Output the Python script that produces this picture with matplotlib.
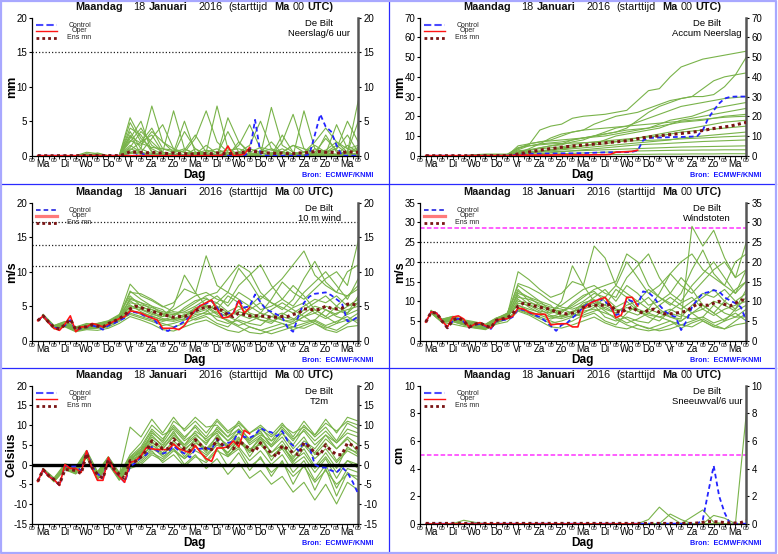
import numpy as np
import matplotlib
matplotlib.use("Agg")
import matplotlib.pyplot as plt
from matplotlib.ticker import FixedLocator, FuncFormatter
from matplotlib.lines import Line2D

plt.rcParams['font.family'] = ['Liberation Sans', 'DejaVu Sans']
plt.rcParams['axes.unicode_minus'] = False

# ---------------------------------------------------------------- data
DAYS = ['Ma', 'Di', 'Wo', 'Do', 'Vr', 'Za', 'Zo', 'Ma', 'Di', 'Wo', 'Do', 'Vr', 'Za', 'Zo', 'Ma']
TITLE_PIECES = [("Maandag", "bold"), ("18", "normal"), ("Januari", "bold"), ("2016", "normal"),
                ("(starttijd", "normal"), ("Ma", "bold"), ("00", "normal"), ("UTC)", "bold")]
LEGEND_LABELS = ["Control", "Oper", "Ens mn"]
STATION = "De Bilt"
SOURCE = "Bron:  ECMWF/KNMI"

# control / mean: 6-hourly from +6h to +360h ; oper: 6-hourly to +240h ; members: 12-hourly
PRECIP_CTRL = [0.0] * 19 + [0.4] + [0.0] * 19 + [0.5, 5.2, 0.3] + [0.0] * 8 + [0.2, 3.0, 6.0, 4.2, 3.5, 1.5, 0.0, 0.0, 0.0, 0.0]
PRECIP_OPER = [0.0] * 34 + [0.1, 1.4, 0.0, 0.1, 0.2, 1.2]
PRECIP_MEAN = [0.0] * 8 + [0.02] * 8 + [0.2, 0.6, 0.5, 0.5, 0.4, 0.5, 0.4, 0.4, 0.3, 0.4, 0.3, 0.3, 0.2, 0.3, 0.3, 0.3,
                                         0.3, 0.4, 0.3, 0.3, 0.3, 0.4, 0.5, 0.8, 0.6, 0.5, 0.4, 0.4, 0.3, 0.4, 0.3, 0.3,
                                         0.4, 0.4, 0.5, 0.6, 0.6, 0.5, 0.5, 0.4, 0.4, 0.6, 0.5, 0.5]
PRECIP_MEMBERS = [
    [0, 0, 0, 0, 0, 0, 0, 0, 3.5, 1.0, 7.2, 2.0, 0.5, 0, 0.2, 1.5, 0.3, 0, 2.0, 0.5, 0, 0.3, 1.0, 0.2, 0, 0.5, 2.5, 0.8, 0.2, 1.0],
    [0, 0, 0, 0, 0.5, 0.3, 0, 0, 5.5, 2.5, 1.0, 0.2, 0, 0.8, 3.0, 0.5, 0, 0, 0.2, 1.0, 0.5, 0, 0, 0.3, 0.5, 1.5, 0.5, 0, 0, 0.3],
    [0, 0, 0, 0, 0, 0, 0, 0, 2.0, 4.0, 1.5, 0.5, 6.5, 1.0, 0.2, 0, 0.5, 0.2, 0, 0, 0.5, 2.0, 0.3, 0, 0, 0, 0.5, 1.0, 3.0, 0.5],
    [0, 0, 0, 0, 0, 0.4, 0, 0, 1.0, 0.5, 2.5, 4.5, 1.0, 0, 0, 0.5, 7.2, 1.0, 0.2, 0, 0, 0, 0.5, 1.5, 0.5, 0, 0, 0.2, 0.5, 0],
    [0, 0, 0, 0, 0, 0, 0, 0, 4.0, 3.0, 0.5, 0.2, 0, 0, 0.5, 0.3, 0, 0.2, 1.5, 4.5, 1.0, 0.2, 0, 0, 6.5, 1.0, 0.3, 0, 0.5, 1.2],
    [0, 0, 0, 0, 0, 0, 0, 0, 0.5, 1.0, 0.3, 0, 0, 0.2, 0.5, 0.2, 0, 0, 0, 0.3, 0.2, 7.0, 1.5, 0.5, 0.2, 0, 0.3, 4.5, 1.0, 0.5],
    [0, 0, 0, 0, 0.3, 0, 0, 0, 2.5, 5.0, 0.5, 0, 0.2, 3.5, 1.0, 0, 0, 0.5, 0.3, 0, 0, 0, 2.0, 6.0, 1.0, 0.2, 0, 0, 0.5, 5.0],
    [0, 0, 0, 0, 0, 0, 0, 0, 1.5, 0.5, 0, 0.3, 0, 0, 0, 0, 0, 0, 0.5, 0.2, 0, 0, 0, 0, 0, 0.3, 0.5, 1.5, 0.3, 0],
    [0, 0, 0, 0, 0, 0, 0, 0, 0.8, 2.0, 4.0, 1.0, 0.5, 5.0, 0.5, 0, 0.2, 3.5, 0.5, 0, 0.3, 0.5, 0, 0, 0.5, 2.0, 4.0, 2.0, 0.5, 8.0],
    [0, 0, 0, 0, 0, 0, 0, 0, 3.0, 0.2, 0, 0, 0, 0, 0, 0.5, 1.0, 0.2, 0, 0, 0, 0, 0, 0.2, 0, 0, 0.2, 0, 0, 0.5],
    [0, 0, 0, 0, 0, 0, 0, 0, 4.8, 2.0, 3.0, 0.5, 0.2, 0, 0, 0, 0, 5.5, 2.0, 0.3, 0, 0, 3.0, 0.5, 0, 0.2, 0.5, 1.0, 5.0, 2.0],
    [0, 0, 0, 0, 0, 0, 0, 0, 0.3, 0.5, 0.2, 0, 0, 0, 0.2, 0, 0, 0, 0, 0, 0, 0, 0, 0.3, 0.5, 0, 0, 0.2, 0, 0],
    [0, 0, 0, 0, 0, 0, 0, 0, 2.2, 1.5, 3.5, 2.0, 1.0, 0.5, 2.5, 6.5, 2.0, 0.5, 0.2, 0, 0.5, 1.0, 0.5, 0.2, 0, 1.0, 0.5, 0.2, 1.5, 0.5],
    [0, 0, 0, 0, 0, 0, 0, 0, 1.2, 3.5, 2.0, 0.5, 0, 0, 1.0, 0.2, 0, 0, 0.5, 1.5, 5.0, 1.0, 0, 0, 0, 0, 3.0, 0.5, 0, 0.2],
    [0, 0, 0, 0, 0, 0, 0, 0, 0.5, 0.2, 0, 0, 0.5, 1.0, 0.3, 0, 0, 0, 0, 0, 0, 0.2, 0.5, 0, 0, 0, 0, 0, 0.3, 0],
    [0, 0, 0, 0, 0.2, 0.2, 0, 0, 2.8, 1.8, 1.2, 1.0, 0.8, 0.5, 0.3, 0.8, 0.5, 0.8, 1.0, 0.5, 1.2, 0.8, 0.5, 1.5, 1.0, 0.5, 0.8, 2.0, 1.0, 1.5],
]

ACCUM_CTRL = [0.0] * 16 + [0.3, 0.6, 0.7, 1.0, 1.0, 1.0, 1.1, 1.1, 1.1, 1.2, 1.2, 1.2, 1.3, 1.3, 1.4, 1.5,
                           1.6, 1.7, 1.7, 1.8, 1.8, 1.8, 2.0, 2.6, 7.8, 9.0, 9.1, 9.2, 9.3, 9.4, 9.5, 9.5,
                           9.6, 9.7, 10.0, 13.0, 19.0, 23.0, 26.5, 29.0, 29.8, 30.0, 30.0, 30.0]
ACCUM_OPER = [0.0] * 16 + [0.1, 0.2, 0.3, 0.3, 0.3, 0.3, 0.3, 0.3, 0.4, 0.4, 0.4, 0.4, 0.4, 0.4, 0.4, 0.5, 0.5, 0.5,
                           0.7, 1.8, 1.9, 2.0, 2.2, 2.8]
ACCUM_MEAN = [0.0] * 8 + [0.05] * 8 + [0.3, 0.9, 1.4, 1.9, 2.3, 2.8, 3.2, 3.6, 3.9, 4.3, 4.6, 4.9, 5.1, 5.4, 5.6, 5.9,
                                         6.2, 6.5, 6.8, 7.0, 7.3, 7.6, 8.0, 8.6, 9.1, 9.5, 9.8, 10.1, 10.4, 10.7, 11.0,
                                         11.3, 11.6, 11.9, 12.3, 12.8, 13.3, 13.8, 14.2, 14.6, 15.0, 15.6, 16.3, 16.9]
ACCUM_MEMBERS = [
    [0, 0, 0, 0, 0.3, 0.6, 0.6, 0.6, 4.0, 5.5, 13.0, 15.0, 16.0, 19.0, 20.0, 20.5, 21.0, 22.0, 23.0, 28.0, 33.0, 34.0, 40.0, 45.0, 47.0, 49.0, 50.0, 51.0, 52.0, 53.0],
    [0, 0, 0, 0, 0, 0, 0, 0, 2.0, 3.0, 4.0, 5.0, 6.0, 8.0, 9.0, 10.0, 11.0, 12.0, 14.0, 18.0, 22.0, 25.0, 27.0, 29.0, 30.0, 30.0, 31.0, 35.0, 41.0, 50.0],
    [0, 0, 0, 0, 0, 0, 0, 0, 1.5, 3.5, 6.0, 9.0, 11.0, 12.0, 13.0, 16.0, 18.0, 20.0, 21.0, 22.0, 24.0, 26.0, 28.0, 29.0, 30.0, 34.0, 38.0, 40.0, 41.0, 42.0],
    [0, 0, 0, 0, 0, 0, 0, 0, 1.0, 2.5, 4.0, 5.0, 5.5, 7.0, 8.0, 10.0, 12.0, 14.0, 15.0, 17.0, 19.0, 21.0, 23.0, 25.0, 26.0, 27.0, 28.0, 29.0, 29.5, 30.0],
    [0, 0, 0, 0, 0, 0, 0, 0, 3.0, 5.0, 6.0, 6.5, 7.0, 8.0, 9.0, 9.5, 10.0, 11.0, 12.0, 13.0, 14.0, 16.0, 18.0, 19.0, 20.0, 22.0, 24.0, 25.0, 26.0, 27.0],
    [0, 0, 0, 0, 0, 0, 0, 0, 0.5, 1.0, 2.0, 3.0, 4.0, 4.5, 5.0, 6.0, 8.0, 10.0, 11.0, 12.0, 13.0, 14.0, 16.0, 18.0, 19.0, 20.0, 21.0, 22.0, 23.0, 24.0],
    [0, 0, 0, 0, 0.5, 0.8, 0.8, 0.8, 3.5, 6.0, 7.0, 7.5, 8.0, 8.5, 9.0, 10.0, 11.0, 12.0, 13.0, 13.5, 14.0, 15.0, 16.0, 17.0, 17.5, 18.0, 19.0, 20.0, 20.5, 21.0],
    [0, 0, 0, 0, 0, 0, 0, 0, 1.2, 2.0, 2.5, 3.0, 3.5, 4.0, 5.0, 5.5, 6.0, 7.0, 8.0, 9.0, 10.0, 11.0, 12.0, 13.0, 14.0, 15.0, 16.0, 17.0, 17.5, 18.0],
    [0, 0, 0, 0, 0, 0, 0, 0, 2.5, 3.0, 3.5, 4.0, 4.5, 5.5, 6.5, 7.0, 7.5, 8.0, 8.5, 9.0, 9.5, 10.0, 11.0, 12.0, 12.5, 13.0, 13.5, 14.0, 14.5, 15.0],
    [0, 0, 0, 0, 0, 0, 0, 0, 0.8, 1.5, 2.0, 2.5, 3.0, 3.5, 4.0, 4.5, 5.0, 5.5, 6.0, 6.5, 7.0, 7.5, 8.0, 9.0, 9.5, 10.0, 10.5, 11.0, 11.5, 12.0],
    [0, 0, 0, 0, 0, 0, 0, 0, 4.0, 5.0, 5.5, 6.0, 6.2, 6.4, 6.6, 6.8, 7.0, 7.2, 7.4, 7.6, 7.8, 8.0, 8.2, 8.5, 8.8, 9.0, 9.3, 9.6, 9.8, 10.0],
    [0, 0, 0, 0, 0, 0, 0, 0, 0.5, 0.8, 1.0, 1.5, 2.0, 2.5, 3.0, 3.5, 4.0, 4.5, 5.0, 5.5, 5.8, 6.0, 6.3, 6.6, 6.9, 7.2, 7.4, 7.6, 7.8, 8.0],
    [0, 0, 0, 0, 0, 0, 0, 0, 1.0, 1.5, 1.8, 2.0, 2.2, 2.4, 2.6, 2.8, 3.0, 3.2, 3.4, 3.6, 3.8, 4.0, 4.2, 4.4, 4.5, 4.6, 4.7, 4.8, 4.9, 5.0],
    [0, 0, 0, 0, 0, 0, 0, 0, 0.2, 0.4, 0.6, 0.8, 1.0, 1.2, 1.4, 1.6, 1.8, 2.0, 2.2, 2.4, 2.5, 2.6, 2.7, 2.8, 2.8, 2.9, 2.9, 3.0, 3.0, 3.0],
    [0, 0, 0, 0, 0, 0, 0, 0, 5.0, 6.0, 7.0, 8.0, 10.0, 12.0, 13.0, 13.5, 14.0, 14.5, 15.0, 15.5, 16.0, 16.5, 17.0, 17.5, 18.0, 18.5, 19.0, 19.5, 19.8, 20.0],
    [0, 0, 0, 0, 0, 0, 0, 0, 0.1, 0.2, 0.2, 0.3, 0.3, 0.4, 0.4, 0.5, 0.5, 0.6, 0.6, 0.7, 0.7, 0.8, 0.8, 0.8, 0.9, 0.9, 0.9, 1.0, 1.0, 1.0],
]

WIND_CTRL = [2.9, 3.6, 2.7, 1.9, 1.8, 2.2, 3.0, 1.5, 1.8, 2.0,
             2.2, 2.0, 1.6, 2.2, 2.5, 2.9, 3.3, 4.2, 4.1, 3.9,
             3.4, 3.4, 2.5, 1.6, 1.4, 1.9, 2.3, 2.8, 3.5, 4.4,
             5.2, 5.4, 5.8, 4.8, 3.5, 4.0, 4.0, 6.0, 4.8, 5.0,
             6.7, 5.6, 4.5, 4.2, 3.8, 3.4, 1.9, 1.3, 3.6, 5.5,
             6.4, 6.8, 6.9, 7.0, 6.6, 6.0, 5.4, 2.8, 3.0, 3.5]
WIND_OPER = [2.9, 3.6, 2.6, 1.8, 1.5, 2.4, 3.6, 1.3, 2.0, 2.0,
             2.5, 2.3, 2.0, 2.4, 2.8, 3.2, 3.5, 4.3, 4.2, 4.0,
             3.6, 3.3, 3.0, 1.8, 1.8, 1.8, 1.6, 2.2, 3.4, 4.5,
             5.1, 5.5, 5.9, 4.5, 3.3, 3.4, 4.0, 5.8, 4.0, 4.8]
WIND_MEAN = [2.9, 3.6, 2.7, 1.9, 1.7, 2.3, 3.1, 1.6, 2.0, 2.0,
             2.3, 2.1, 2.0, 2.5, 2.8, 3.2, 3.7, 4.6, 5.0, 4.8,
             4.5, 4.3, 4.0, 3.8, 3.6, 3.4, 3.5, 3.5, 3.8, 4.3,
             4.7, 4.8, 5.0, 4.5, 4.4, 3.7, 3.5, 4.0, 3.8, 3.6,
             3.6, 3.6, 3.5, 3.4, 3.4, 3.5, 3.5, 3.8, 4.0, 4.6,
             4.6, 4.4, 4.6, 5.0, 4.7, 4.6, 4.7, 5.3, 5.3, 5.0]
WIND_MEMBERS = [
    [3.7, 2.1, 2.6, 1.8, 2.2, 2.4, 2.8, 3.6, 8.2, 6.5, 5.8, 4.9, 5.5, 7.5, 6.8, 12.3, 8.0, 7.0, 10.5, 8.5, 6.0, 7.5, 9.0, 11.0, 13.0, 9.5, 8.0, 7.0, 6.5, 8.0],
    [3.4, 1.7, 2.0, 1.3, 1.6, 1.5, 1.8, 2.5, 3.5, 3.0, 2.4, 1.6, 1.4, 2.0, 2.6, 3.0, 2.2, 1.5, 1.2, 2.0, 1.5, 1.0, 1.5, 2.0, 1.8, 2.5, 1.6, 1.2, 2.0, 2.2],
    [3.6, 1.9, 2.3, 1.6, 2.0, 2.1, 2.3, 3.1, 5.0, 4.8, 4.5, 4.0, 3.8, 4.2, 5.0, 6.0, 5.5, 4.2, 5.0, 3.6, 3.0, 2.8, 3.5, 3.0, 4.5, 5.5, 6.5, 5.0, 4.0, 5.5],
    [3.5, 2.0, 2.4, 1.7, 2.1, 2.2, 2.6, 3.3, 6.0, 5.5, 5.0, 4.5, 3.0, 3.5, 4.5, 5.5, 6.5, 5.0, 7.0, 6.0, 4.5, 5.0, 6.0, 8.0, 6.5, 4.5, 3.5, 5.0, 6.5, 7.5],
    [3.8, 2.2, 2.8, 2.0, 2.5, 2.3, 2.5, 3.0, 4.5, 3.8, 3.2, 2.8, 3.2, 3.8, 4.0, 4.5, 3.0, 2.5, 3.0, 2.5, 2.2, 3.5, 4.0, 3.2, 2.8, 3.0, 4.5, 3.5, 3.0, 4.0],
    [3.5, 1.8, 2.1, 1.4, 1.8, 1.9, 2.2, 3.5, 7.2, 6.0, 5.0, 3.8, 4.5, 5.5, 6.5, 7.0, 6.0, 5.5, 8.0, 9.5, 11.0, 8.0, 6.0, 5.0, 7.0, 8.5, 10.0, 8.0, 6.0, 9.0],
    [3.6, 2.0, 2.5, 1.5, 1.7, 1.8, 2.0, 2.8, 4.0, 3.5, 3.0, 2.5, 2.0, 2.5, 3.2, 3.8, 4.2, 3.5, 2.8, 2.0, 1.5, 2.0, 2.5, 1.6, 2.2, 2.8, 2.0, 1.5, 2.5, 3.5],
    [3.7, 2.1, 2.7, 1.9, 2.3, 2.5, 2.9, 3.8, 6.5, 5.0, 4.2, 3.5, 5.0, 9.5, 7.0, 5.0, 4.5, 6.5, 5.5, 4.0, 3.5, 4.5, 5.5, 4.5, 3.5, 4.0, 5.0, 4.5, 3.8, 4.5],
    [3.4, 1.8, 2.2, 1.4, 1.9, 2.0, 2.4, 3.2, 5.5, 5.2, 4.8, 4.2, 4.0, 3.5, 3.0, 3.5, 2.5, 2.0, 3.5, 4.5, 5.5, 4.0, 3.0, 2.5, 3.5, 4.5, 3.5, 2.5, 3.0, 3.0],
    [3.5, 1.9, 2.4, 1.6, 2.0, 2.3, 2.6, 3.4, 4.8, 4.5, 3.8, 3.5, 3.8, 4.5, 5.5, 6.5, 7.0, 9.0, 11.0, 10.0, 7.0, 5.5, 4.5, 6.0, 9.0, 11.5, 8.5, 7.0, 10.0, 11.0],
    [3.6, 2.0, 2.5, 1.7, 2.1, 2.4, 2.7, 3.5, 7.0, 6.8, 6.0, 5.0, 4.2, 4.0, 4.5, 5.0, 4.0, 3.5, 4.5, 5.0, 6.5, 5.5, 4.8, 4.0, 5.0, 6.0, 5.5, 6.5, 5.0, 6.0],
    [3.5, 1.9, 2.3, 1.5, 1.8, 2.0, 2.3, 3.0, 3.8, 3.3, 2.8, 2.2, 2.5, 3.0, 3.8, 4.0, 3.5, 3.0, 2.2, 2.8, 3.5, 3.0, 2.5, 2.0, 2.5, 3.0, 2.2, 2.8, 3.5, 2.5],
    [3.7, 2.1, 2.6, 1.8, 2.2, 2.2, 2.5, 3.3, 5.2, 4.2, 3.5, 3.0, 3.5, 4.8, 5.8, 6.2, 5.0, 4.0, 3.8, 3.2, 4.0, 3.5, 3.0, 2.8, 4.0, 5.0, 4.5, 3.8, 5.0, 5.5],
    [3.6, 2.0, 2.4, 1.6, 1.9, 2.1, 2.4, 3.1, 4.4, 4.0, 3.6, 3.0, 2.8, 3.2, 4.2, 4.8, 3.8, 2.8, 2.0, 1.2, 1.0, 1.5, 2.0, 2.5, 3.5, 2.5, 1.8, 2.5, 4.0, 6.5],
    [3.5, 1.9, 2.2, 1.5, 1.8, 1.9, 2.2, 3.0, 6.2, 5.5, 4.5, 3.8, 3.3, 3.0, 3.5, 4.2, 5.5, 7.0, 6.0, 5.0, 4.0, 6.0, 8.5, 7.0, 6.0, 7.5, 9.0, 10.0, 8.0, 14.5],
    [3.8, 2.2, 2.7, 1.9, 2.4, 2.5, 2.8, 3.7, 5.8, 4.6, 4.0, 3.2, 3.0, 3.6, 4.8, 5.2, 4.5, 3.8, 4.2, 3.8, 3.0, 2.5, 3.8, 4.8, 5.5, 4.0, 3.2, 4.0, 4.5, 5.0],
]

GUST_CTRL = [4.7, 7.3, 7.0, 5.0, 3.2, 5.0, 5.6, 4.8, 3.3, 4.0,
             4.3, 3.7, 3.0, 5.0, 5.2, 5.4, 6.0, 8.0, 7.8, 7.2,
             6.5, 6.0, 5.0, 3.8, 2.5, 4.0, 4.5, 5.8, 7.0, 8.5,
             9.5, 10.0, 10.5, 10.0, 8.5, 6.5, 7.0, 10.5, 10.0, 9.0,
             12.5, 12.2, 11.0, 9.0, 7.5, 6.5, 6.0, 2.7, 5.0, 8.5,
             10.5, 12.0, 12.3, 12.8, 12.5, 11.0, 10.2, 9.5, 8.5, 5.0]
GUST_OPER = [4.7, 7.3, 7.0, 5.0, 3.5, 6.0, 6.3, 5.5, 3.3, 4.2,
             4.6, 3.8, 3.2, 5.2, 5.5, 5.6, 6.2, 8.3, 8.0, 7.2,
             6.8, 6.7, 6.7, 4.0, 4.2, 4.3, 4.3, 3.5, 3.5, 8.0,
             9.3, 10.0, 10.5, 11.0, 9.0, 5.8, 6.5, 11.0, 11.0, 8.8]
GUST_MEAN = [4.7, 7.2, 7.0, 5.0, 3.3, 5.2, 5.8, 5.0, 3.5, 4.2,
             4.5, 3.8, 3.3, 5.2, 5.5, 5.8, 6.8, 8.8, 9.5, 9.2,
             8.8, 8.5, 8.2, 8.0, 7.2, 7.0, 6.8, 7.0, 7.3, 8.5,
             8.8, 9.0, 9.0, 9.0, 9.2, 7.5, 7.2, 8.0, 8.5, 7.5,
             7.0, 7.8, 8.0, 7.2, 6.8, 6.8, 7.0, 7.2, 7.5, 8.5,
             9.3, 9.0, 9.0, 9.5, 10.0, 9.2, 8.8, 9.5, 10.3, 10.3]
GUST_MEMBERS = [
    [7.5, 5.2, 5.8, 4.8, 4.2, 3.8, 5.5, 6.5, 17.5, 15.5, 13.0, 11.0, 12.0, 15.0, 14.0, 24.0, 21.0, 14.0, 20.0, 16.0, 12.0, 14.0, 17.0, 20.0, 22.0, 18.0, 16.0, 14.0, 12.0, 15.0],
    [7.0, 4.6, 4.2, 3.6, 3.2, 2.8, 4.2, 4.8, 7.5, 6.5, 5.0, 3.5, 3.2, 4.0, 5.0, 6.0, 4.5, 3.5, 3.0, 4.0, 3.2, 2.5, 3.0, 4.0, 3.5, 5.0, 3.5, 3.0, 4.0, 4.5],
    [7.2, 4.9, 5.2, 4.4, 3.8, 3.4, 5.0, 5.8, 10.0, 9.5, 9.0, 8.0, 7.5, 8.5, 10.0, 12.0, 11.0, 8.5, 10.0, 7.5, 6.5, 6.0, 7.0, 6.0, 9.0, 11.0, 13.0, 10.0, 8.0, 11.0],
    [7.4, 5.1, 5.5, 4.6, 4.0, 3.6, 5.3, 6.2, 12.0, 11.0, 10.0, 9.0, 6.0, 7.0, 9.0, 11.0, 13.0, 10.0, 14.0, 12.0, 9.0, 10.0, 12.0, 16.0, 13.0, 9.0, 7.0, 10.0, 13.0, 15.0],
    [7.6, 5.4, 6.2, 5.3, 4.8, 4.2, 5.8, 6.5, 9.0, 7.5, 6.5, 5.5, 6.3, 7.5, 8.0, 9.0, 6.0, 5.0, 6.0, 5.0, 4.5, 7.0, 8.0, 6.5, 5.5, 6.0, 9.0, 7.0, 6.0, 8.0],
    [7.1, 4.7, 4.8, 4.0, 3.5, 3.2, 4.8, 6.8, 14.0, 12.0, 10.0, 7.5, 9.0, 11.0, 13.0, 14.0, 12.0, 11.0, 16.0, 19.0, 22.0, 16.0, 12.0, 10.0, 14.0, 17.0, 20.0, 16.0, 12.0, 18.0],
    [7.3, 5.0, 5.6, 4.2, 3.3, 3.0, 4.5, 5.5, 8.0, 7.0, 6.0, 5.0, 4.0, 5.0, 6.5, 7.5, 8.5, 7.0, 5.5, 4.0, 3.0, 4.0, 5.0, 3.2, 4.5, 5.5, 4.0, 3.0, 5.0, 7.0],
    [7.5, 5.3, 6.0, 5.0, 4.5, 4.0, 5.6, 7.0, 13.0, 10.0, 8.5, 7.0, 10.0, 19.0, 14.0, 10.0, 9.0, 13.0, 11.0, 8.0, 7.0, 9.0, 11.0, 9.0, 7.0, 8.0, 10.0, 9.0, 7.5, 9.0],
    [7.0, 4.8, 5.0, 4.1, 3.6, 3.3, 4.9, 6.0, 11.0, 10.5, 9.5, 8.5, 8.0, 7.0, 6.0, 7.0, 5.0, 4.0, 7.0, 9.0, 11.0, 8.0, 6.0, 5.0, 7.0, 9.0, 7.0, 5.0, 6.0, 6.0],
    [7.2, 4.9, 5.4, 4.5, 3.9, 3.5, 5.2, 6.4, 9.5, 9.0, 7.5, 7.0, 7.5, 9.0, 11.0, 13.0, 14.0, 15.0, 22.0, 20.0, 14.0, 11.0, 9.0, 12.0, 18.0, 23.0, 17.0, 14.0, 20.0, 22.0],
    [7.4, 5.2, 5.7, 4.7, 4.1, 3.7, 5.4, 6.6, 14.5, 13.5, 12.0, 10.0, 8.5, 8.0, 9.0, 10.0, 8.0, 7.0, 9.0, 10.0, 13.0, 11.0, 9.5, 8.0, 10.0, 12.0, 11.0, 13.0, 10.0, 12.0],
    [7.1, 4.8, 4.9, 4.0, 3.4, 3.1, 4.6, 5.6, 7.8, 6.8, 5.6, 4.4, 5.0, 6.0, 7.5, 8.0, 7.0, 6.0, 4.5, 5.5, 7.0, 6.0, 5.0, 4.0, 5.0, 6.0, 4.5, 5.5, 7.0, 5.0],
    [7.6, 5.3, 5.9, 4.9, 4.3, 3.9, 5.5, 6.4, 10.5, 8.5, 7.0, 6.0, 7.0, 9.5, 11.5, 12.5, 10.0, 8.0, 7.5, 6.5, 8.0, 7.0, 6.0, 5.5, 29.0, 24.0, 28.0, 21.0, 16.0, 18.0],
    [7.3, 5.0, 5.3, 4.3, 3.7, 3.4, 5.0, 6.1, 9.0, 8.0, 7.2, 6.0, 5.6, 6.4, 8.5, 9.5, 7.5, 5.5, 4.0, 3.0, 2.5, 3.0, 4.0, 5.0, 7.0, 5.0, 3.6, 5.0, 8.0, 13.0],
    [7.2, 4.9, 5.1, 4.2, 3.6, 3.3, 4.8, 5.9, 12.5, 11.0, 9.0, 7.5, 6.5, 6.0, 7.0, 8.5, 11.0, 14.0, 12.0, 10.0, 8.0, 12.0, 17.0, 14.0, 12.0, 15.0, 18.0, 20.0, 16.0, 25.0],
    [7.7, 5.5, 6.1, 5.1, 4.6, 4.1, 5.7, 6.9, 11.5, 9.2, 8.0, 6.4, 6.0, 7.2, 9.6, 10.4, 9.0, 7.6, 8.4, 7.6, 6.0, 5.0, 7.6, 9.6, 11.0, 8.0, 6.4, 8.0, 9.0, 10.0],
]

T2M_CTRL = [-4.3, -1.2, -3.0, -3.8, -5.3, -0.3, -0.5, -0.5, -1.5, 3.5,
            -0.5, -2.3, -3.5, 1.8, -1.5, -3.0, -4.5, -0.5, 0.5, 1.8,
            2.5, 4.5, 3.5, 2.8, 3.2, 4.7, 3.5, 2.8, 1.8, 4.0,
            4.0, 4.2, 3.8, 6.5, 4.8, 5.5, 5.8, 8.5, 7.0, 6.8,
            7.5, 9.3, 8.5, 8.2, 7.2, 8.5, 6.0, 4.8, 3.5, 5.8,
            4.5, 0.0, -0.7, -0.8, -1.5, -2.0, -0.7, -2.0, -4.5, -7.5]
T2M_OPER = [-4.3, -1.2, -3.0, -3.8, -5.3, 0.0, -1.0, -1.0, -2.0, 3.5,
            -1.0, -4.0, -4.0, 1.8, -1.5, -3.0, -4.5, 0.5, 1.0, 2.2,
            4.3, 4.0, 3.8, 3.8, 3.8, 5.2, 4.0, 3.5, 3.0, 4.8,
            3.0, 1.5, 0.8, 4.2, 4.2, 4.5, 6.0, 4.5, 8.7, 7.8]
T2M_MEAN = [-4.3, -1.3, -2.8, -3.8, -5.0, -1.3, -1.3, -1.5, -2.3, 2.8,
            -0.8, -2.5, -3.5, 1.2, -1.0, -2.5, -3.5, 1.0, 0.8, 2.0,
            3.5, 6.0, 5.0, 4.0, 4.0, 6.5, 5.0, 4.0, 3.5, 6.3,
            5.0, 4.0, 3.8, 6.5, 5.0, 4.5, 4.0, 6.0, 5.0, 4.0,
            3.3, 5.5, 4.0, 3.0, 2.0, 4.8, 4.0, 3.0, 2.5, 5.5,
            4.5, 3.0, 2.5, 5.0, 3.5, 2.5, 2.5, 5.5, 4.8, 4.0]
T2M_MEMBERS = [
    [-1.3, -3.6, -0.5, -1.5, 3.0, -2.5, 1.5, -2.5, 9.5, 7.0, 11.5, 8.0, 12.0, 8.5, 11.0, 8.0, 11.5, 8.5, 10.5, 8.0, 10.0, 7.5, 10.5, 7.0, 11.0, 7.5, 11.5, 8.0, 12.0, 11.0],
    [-1.4, -4.2, -1.2, -2.2, 2.0, -3.5, 0.5, -3.5, -0.5, 0.5, 3.0, 1.5, 4.0, 0.0, 2.5, -1.0, 1.5, -2.5, 0.5, -3.5, -1.5, -5.0, -3.0, -7.0, -4.5, -9.0, -5.0, -10.0, -4.5, -6.5],
    [-1.2, -3.8, -0.6, -1.0, 2.8, -2.8, 1.2, -2.8, 1.0, 3.5, 7.0, 5.0, 8.0, 5.0, 7.5, 5.5, 8.5, 6.0, 9.0, 5.0, 7.0, 3.0, 6.0, 2.0, 5.0, 1.5, 4.0, 0.5, 3.5, 2.0],
    [-1.1, -3.5, -0.2, -0.8, 3.2, -2.0, 1.6, -2.2, 2.0, 4.5, 9.0, 6.5, 10.0, 7.0, 9.5, 6.0, 8.0, 4.0, 6.5, 3.0, 5.5, 2.0, 4.5, 1.5, 5.0, 3.0, 6.5, 4.0, 7.0, 5.0],
    [-1.5, -4.0, -0.9, -1.8, 2.5, -3.2, 0.8, -3.2, 0.0, 2.0, 5.0, 3.0, 6.0, 3.5, 6.5, 4.0, 7.0, 5.0, 8.0, 6.0, 9.0, 7.0, 9.5, 6.5, 8.5, 5.0, 7.5, 4.0, 6.5, 3.0],
    [-1.2, -3.7, -0.4, -1.2, 3.3, -2.4, 1.8, -2.6, 1.5, 3.0, 6.0, 2.5, 5.5, 2.0, 5.0, 1.0, 4.0, -0.5, 3.0, -1.5, 2.0, -3.0, 1.0, -5.0, 0.0, -6.5, -1.0, -8.0, -2.0, -4.0],
    [-1.3, -3.9, -0.7, -1.4, 2.7, -2.9, 1.0, -3.0, 0.5, 2.5, 8.0, 6.0, 11.0, 9.0, 12.0, 9.5, 10.0, 7.0, 9.0, 6.5, 8.0, 5.0, 9.0, 6.0, 10.0, 7.0, 9.5, 6.0, 10.5, 9.0],
    [-1.0, -3.4, 0.2, -0.6, 3.6, -1.8, 2.0, -2.0, 1.2, 2.2, 4.5, 2.0, 4.0, 1.5, 3.5, 2.0, 5.0, 3.0, 6.0, 3.5, 6.5, 3.0, 5.0, 1.0, 3.0, -1.0, 2.0, -2.0, 1.0, 0.0],
    [-1.4, -4.1, -1.0, -2.0, 2.2, -3.6, 0.3, -3.8, -0.8, 1.0, 3.5, 0.5, 2.5, -0.5, 2.0, 0.5, 3.5, 2.0, 5.5, 3.5, 7.0, 4.5, 8.0, 5.0, 9.0, 6.0, 8.5, 5.5, 8.0, 7.0],
    [-1.2, -3.8, -0.3, -1.1, 3.1, -2.6, 1.4, -2.7, 2.5, 5.5, 10.0, 7.5, 9.0, 6.0, 8.0, 5.0, 9.5, 7.0, 11.0, 8.0, 9.5, 6.0, 8.0, 4.0, 7.0, 2.5, 5.5, 1.0, 4.0, 3.0],
    [-1.3, -3.6, -0.4, -1.3, 2.9, -2.2, 1.7, -2.4, 0.8, 2.8, 5.5, 4.0, 7.0, 4.5, 7.0, 3.5, 6.0, 2.5, 4.5, 1.0, 3.5, 0.0, 2.5, -2.0, 1.0, -4.0, 0.0, -6.0, -1.0, -2.0],
    [-1.1, -3.7, -0.1, -0.9, 3.4, -2.1, 1.9, -2.3, 1.8, 4.0, 8.5, 5.5, 9.5, 6.5, 10.0, 7.0, 11.0, 8.0, 10.0, 6.0, 8.5, 4.5, 7.0, 3.0, 6.0, 4.0, 7.5, 5.5, 9.0, 8.0],
    [-1.4, -4.3, -1.3, -2.4, 1.8, -3.8, 0.1, -4.0, -1.0, 0.0, 2.5, 1.0, 3.5, 1.5, 4.5, 2.5, 5.5, 3.0, 6.5, 4.0, 5.0, 2.0, 4.0, 0.0, 2.0, -2.0, 1.5, -3.5, 1.0, -1.0],
    [-1.2, -3.9, -0.5, -1.3, 2.9, -2.7, 1.3, -2.9, 1.3, 3.8, 7.5, 4.5, 8.5, 4.0, 6.0, 3.0, 7.5, 4.5, 7.0, 2.0, 6.0, 1.0, 5.0, 0.5, 4.0, -0.5, 3.0, -1.0, 4.5, 2.5],
    [-1.3, -3.7, -0.2, -1.0, 3.0, -2.3, 1.6, -2.5, 1.6, 3.2, 6.5, 4.0, 7.5, 5.0, 8.5, 6.5, 9.0, 6.0, 8.0, 5.5, 7.5, 6.0, 10.0, 8.0, 9.5, 7.5, 10.5, 8.5, 11.0, 10.0],
    [-1.5, -4.4, -1.1, -2.3, 2.1, -3.9, 0.2, -3.7, -0.3, 1.5, 4.0, 2.5, 5.0, 2.8, 5.5, 3.8, 6.0, 2.0, 4.0, -0.5, 1.5, -2.0, 0.5, -3.0, -0.5, -4.5, -1.5, -5.0, -2.5, -3.0],
]

SNOW_CTRL = [0.0] * 50 + [0.0, 0.3, 2.3, 4.2, 2.0, 0.8, 0.0, 0.0, 0.0, 0.0]
SNOW_OPER = [0.0] * 40
SNOW_MEAN = [0.02] * 50 + [0.05, 0.1, 0.15, 0.15, 0.12, 0.08, 0.05, 0.05, 0.08, 0.2]
SNOW_MEMBERS = [
    [0, 0, 0, 0.25, 0.1] + [0] * 25,
    [0] * 20 + [0.3, 1.2, 0.5] + [0] * 7,
    [0] * 22 + [0.7, 0.3] + [0] * 6,
    [0] * 24 + [0.5, 1.0, 0.1] + [0] * 3,
    [0] * 26 + [0.6, 0.4, 0, 0],
    [0] * 29 + [8.0],
    [0] * 30,
]

# ---------------------------------------------------------------- style
W, H = 778, 554
fig = plt.figure(figsize=(W / 100, H / 100), dpi=100)
fig.patch.set_facecolor('white')

GREEN = '#79b34a'
BLUE = '#2424ff'
RED = '#ff1414'
MEANC = '#7a1414'

COL_X = [32.3, 420.3]
ROW_Y = [17.7, 202.7, 385.7]
AX_W, AX_H = 326.0, 138.0


def fx(px):
    return px / W


def fy(py):
    return 1 - py / H


PANELS = [
    dict(r=0, c=0, ylim=(0, 20), yt=list(range(0, 21, 5)), ylabel='mm', name='Neerslag/6 uur',
         mem=PRECIP_MEMBERS, ctrl=PRECIP_CTRL, oper=PRECIP_OPER, mean=PRECIP_MEAN,
         hl=[(15, 'dot')], wind=False),
    dict(r=0, c=1, ylim=(0, 70), yt=list(range(0, 71, 10)), ylabel='mm', name='Accum Neerslag',
         mem=ACCUM_MEMBERS, ctrl=ACCUM_CTRL, oper=ACCUM_OPER, mean=ACCUM_MEAN, hl=[], wind=False),
    dict(r=1, c=0, ylim=(0, 20), yt=list(range(0, 21, 5)), ylabel='m/s', name='10 m wind',
         mem=WIND_MEMBERS, ctrl=WIND_CTRL, oper=WIND_OPER, mean=WIND_MEAN,
         hl=[(10.8, 'dot'), (13.9, 'dot'), (17.2, 'dot')], wind=True),
    dict(r=1, c=1, ylim=(0, 35), yt=list(range(0, 36, 5)), ylabel='m/s', name='Windstoten',
         mem=GUST_MEMBERS, ctrl=GUST_CTRL, oper=GUST_OPER, mean=GUST_MEAN,
         hl=[(20, 'dot'), (25, 'dot'), (28.5, 'mag')], wind=True),
    dict(r=2, c=0, ylim=(-15, 20), yt=list(range(-15, 21, 5)), ylabel='Celsius', name='T2m',
         mem=T2M_MEMBERS, ctrl=T2M_CTRL, oper=T2M_OPER, mean=T2M_MEAN, hl=[(0, 'zero')], wind=False),
    dict(r=2, c=1, ylim=(0, 10), yt=list(range(0, 11, 2)), ylabel='cm', name='Sneeuwval/6 uur',
         mem=SNOW_MEMBERS, ctrl=SNOW_CTRL, oper=SNOW_OPER, mean=SNOW_MEAN, hl=[(5, 'mag')], wind=False),
]

renderer = fig.canvas.get_renderer()


def draw_title(xc_px, base_px):
    gaps = [11, 3, 11, 6, 6, 3, 3, 0]
    texts = []
    for s, w in TITLE_PIECES:
        texts.append(fig.text(0, fy(base_px), s, fontsize=7.8, fontweight=w,
                              ha='left', va='baseline', color='#111111'))
    widths = [t.get_window_extent(renderer).width for t in texts]
    total = sum(widths) + sum(gaps[:-1])
    x = xc_px - total / 2
    for t, wd, g in zip(texts, widths, gaps):
        t.set_x(fx(x))
        x += wd + g


minor_pos = [d + q for d in range(15) for q in (0.25, 0.5, 0.75)]

for p in PANELS:
    x0 = COL_X[p['c']]
    y0 = ROW_Y[p['r']]
    ax = fig.add_axes([fx(x0), fy(y0 + AX_H), AX_W / W, AX_H / H])
    ax.set_xlim(0, 15)
    ax.set_ylim(*p['ylim'])
    ax.set_facecolor('white')

    # reference lines
    for v, kind in p['hl']:
        if kind == 'dot':
            ax.axhline(v, color='#222222', lw=0.9, ls=(0, (1, 1.6)), zorder=1.5)
        elif kind == 'mag':
            ax.axhline(v, color='#ff33ff', lw=1.1, ls=(0, (3, 1.5)), zorder=1.5)
        else:
            ax.axhline(v, color='black', lw=2.4, zorder=3)

    for m in p['mem']:
        tm = 0.5 * np.arange(1, len(m) + 1)
        ax.plot(tm, m, color=GREEN, lw=0.8, zorder=2, solid_joinstyle='round')
    tc = 0.25 * np.arange(1, len(p['ctrl']) + 1)
    to = 0.25 * np.arange(1, len(p['oper']) + 1)
    tmn = 0.25 * np.arange(1, len(p['mean']) + 1)
    ax.plot(tc, p['ctrl'], color=BLUE, lw=1.3, ls=(0, (2.6, 1.8)), zorder=4)
    ax.plot(to, p['oper'], color=RED, lw=1.2, zorder=5)
    ax.plot(tmn, p['mean'], color=MEANC, lw=2.2, ls=(0, (1, 1.1)), zorder=6)

    # legend drawn by hand
    ys = [0.947, 0.904, 0.855]
    if p['wind']:
        ax.plot([0.01, 0.075], [ys[0]] * 2, transform=ax.transAxes, color='#1010dd', lw=1.1,
                ls=(0, (3, 2)), zorder=7)
        ax.plot([0.01, 0.075], [ys[1]] * 2, transform=ax.transAxes, color='#ff7a7a', lw=2.3, zorder=7)
    else:
        ax.plot([0.01, 0.075], [ys[0]] * 2, transform=ax.transAxes, color='#4a4aff', lw=1.5,
                ls=(0, (3.5, 1.5)), zorder=7)
        ax.plot([0.01, 0.075], [ys[1]] * 2, transform=ax.transAxes, color=RED, lw=1.0, zorder=7)
    ax.plot([0.01, 0.075], [ys[2]] * 2, transform=ax.transAxes, color=MEANC, lw=2.0,
            ls=(0, (1, 1.1)), zorder=7)
    for yy, lab in zip(ys, LEGEND_LABELS):
        ax.text(0.145, yy, lab, transform=ax.transAxes, fontsize=5, ha='center', va='center',
                color='#222222', zorder=8)

    ax.text(0.88, 0.957, STATION, transform=ax.transAxes, fontsize=6.8, ha='center', va='center')
    ax.text(0.88, 0.882, p['name'], transform=ax.transAxes, fontsize=6.8, ha='center', va='center')

    # spines
    ax.spines['top'].set_visible(False)
    ax.spines['left'].set_linewidth(0.9)
    ax.spines['bottom'].set_linewidth(0.9)
    ax.spines['right'].set_linewidth(1.8)
    ax.spines['right'].set_color('#555555')

    # y ticks
    ax.set_yticks(p['yt'])
    ax.yaxis.set_major_formatter(FuncFormatter(lambda v, pos: f'{v:g}'))
    ax.tick_params(axis='y', which='major', direction='out', length=2.2, width=0.8, labelsize=7,
                   pad=1.5, left=True, right=True, labelleft=True, labelright=True)

    # x ticks
    ax.xaxis.set_major_locator(FixedLocator(list(range(16))))
    ax.xaxis.set_major_formatter(FuncFormatter(lambda v, pos: '00'))
    ax.xaxis.set_minor_locator(FixedLocator(minor_pos))
    ax.xaxis.set_minor_formatter(FuncFormatter(
        lambda v, pos: DAYS[int(v)] if abs(v - int(v) - 0.5) < 1e-6 else ''))
    ax.tick_params(axis='x', which='major', direction='out', length=2.2, width=0.7,
                   labelsize=4.3, pad=-0.8)
    ax.tick_params(axis='x', which='minor', direction='out', length=1.8, width=0.6,
                   labelsize=7, pad=0.6)

    # outer texts
    draw_title(x0 + 171.7, y0 - 7.9)
    fig.text(fx(x0 + 162.7), fy(y0 + 157.0), 'Dag', fontsize=8.6, fontweight='bold',
             ha='center', va='center')
    fig.text(fx(x0 + 340.7), fy(y0 + 157.5), SOURCE, fontsize=5.2, fontweight='bold',
             color='#1414ff', ha='right', va='center')
    fig.text(fx(x0 - 20.5), fy(y0 + 69), p['ylabel'], fontsize=9, fontweight='bold',
             rotation=90, ha='center', va='center')

# panel frame lines
fig.add_artist(Line2D([fx(389), fx(389)], [fy(0), fy(553)], color='#2a2aff', lw=0.9))
for yy in (184, 368):
    fig.add_artist(Line2D([fx(0), fx(776)], [fy(yy), fy(yy)], color='#2a2aff', lw=0.9))
frame = [(0.8, 0.5), (775.5, 0.5), (775.5, 552.5), (0.8, 552.5), (0.8, 0.5)]
fig.add_artist(Line2D([fx(a) for a, b in frame], [fy(b) for a, b in frame], color='#a8a8ff', lw=1.6))

fig.savefig('out.png', dpi=100, facecolor='white')
